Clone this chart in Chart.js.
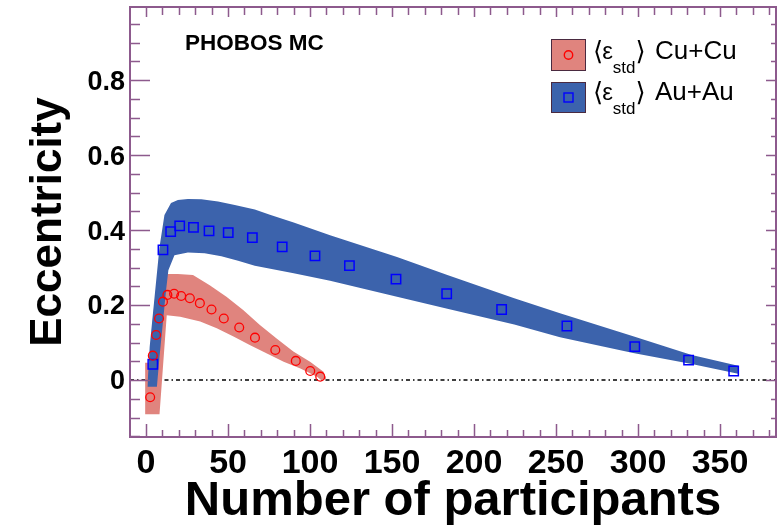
<!DOCTYPE html>
<html>
<head>
<meta charset="utf-8">
<script src="https://cdn.jsdelivr.net/npm/chart.js@4.4.0/dist/chart.umd.min.js"></script>
<style>
  html, body { margin: 0; padding: 0; background: #fff; }
  #wrap { width: 777px; height: 527px; }
</style>
</head>
<body>
<div id="wrap"><canvas id="chart" width="777" height="527"></canvas></div>
<script>
// Cu+Cu markers
const cuNpart = [2.5, 4.1, 6.1, 7.9, 10.3, 13.0, 17.1, 21.4, 26.7, 32.8, 39.9, 47.4, 56.8, 66.4, 78.8, 91.3, 100.1, 106.2];
const cuEcc = [-0.046, 0.065, 0.120, 0.164, 0.209, 0.227, 0.230, 0.224, 0.218, 0.205, 0.188, 0.164, 0.140, 0.113, 0.080, 0.051, 0.024, 0.009];

// Au+Au markers
const auNpart = [4.1, 10.3, 15.0, 20.5, 28.9, 38.4, 50.1, 64.8, 83.0, 103.0, 124.0, 152.4, 183.3, 216.8, 256.6, 298.0, 330.8, 358.3];
const auEcc = [0.042, 0.347, 0.396, 0.411, 0.407, 0.398, 0.393, 0.380, 0.355, 0.331, 0.305, 0.269, 0.230, 0.188, 0.144, 0.089, 0.053, 0.024];

// band edges (upper / lower)
const cuUpperN = [-0.6, -0.6, 1.8, 4.3, 6.5, 9.0, 12.6, 19.4, 28.6, 38.8, 49.0, 59.2, 69.4, 79.6, 89.8, 100.0, 108.2, 109.9];
const cuUpperE = [-0.091, 0.046, 0.046, 0.170, 0.260, 0.283, 0.283, 0.283, 0.280, 0.253, 0.222, 0.187, 0.147, 0.111, 0.076, 0.049, 0.022, 0.004];
const cuLowerN = [-0.6, 8.2, 12.6, 20.8, 33.0, 43.1, 53.3, 63.5, 73.7, 83.9, 94.1, 104.3, 107.3, 109.9];
const cuLowerE = [-0.091, -0.091, 0.173, 0.169, 0.156, 0.138, 0.116, 0.093, 0.071, 0.049, 0.031, 0.009, -0.002, 0.004];

const auUpperN = [0.8, 2.2, 4.2, 6.2, 8.2, 11.2, 15.2, 19.4, 25.5, 33.7, 43.9, 54.1, 66.3, 75.5, 90.0, 112.2, 153.0, 183.7, 224.5, 252.4, 297.0, 332.7, 361.0];
const auUpperE = [-0.018, 0.089, 0.178, 0.267, 0.355, 0.440, 0.472, 0.480, 0.483, 0.482, 0.476, 0.467, 0.455, 0.441, 0.420, 0.386, 0.328, 0.280, 0.218, 0.178, 0.117, 0.067, 0.038];
const auLowerN = [0.8, 6.6, 8.2, 10.2, 12.2, 13.6, 17.3, 25.5, 35.7, 45.9, 56.1, 66.3, 90.0, 112.2, 153.0, 183.7, 224.5, 252.4, 297.0, 332.7, 361.0];
const auLowerE = [-0.018, -0.018, 0.062, 0.151, 0.240, 0.293, 0.333, 0.340, 0.338, 0.330, 0.318, 0.305, 0.285, 0.265, 0.222, 0.190, 0.148, 0.114, 0.072, 0.043, 0.017];

const xTicks = [0, 50, 100, 150, 200, 250, 300, 350];
const yTicks = [0, 0.2, 0.4, 0.6, 0.8];
const xRange = [-9.8, 384.1];
const yRange = [-0.152, 0.995];

const CU_FILL = '#e0847e';
const AU_FILL = '#3c63ac';
const FRAME = '#8d5a8d';
const SANS = '"Liberation Sans", Arial, sans-serif';

const pts = (xs, ys) => xs.map((x, i) => ({ x: x, y: ys[i] }));

function band(xs, ys, fill, color) {
  return {
    data: pts(xs, ys),
    showLine: true,
    borderWidth: 0,
    borderColor: 'rgba(0,0,0,0)',
    backgroundColor: color,
    pointRadius: 0,
    fill: fill
  };
}

// frame + ROOT style inner ticks on all four sides, plus text boxes
const framePlugin = {
  id: 'frame',
  afterDatasetsDraw(chart) {
    const { ctx, chartArea: a, scales: { x, y } } = chart;
    ctx.save();
    ctx.strokeStyle = FRAME;
    ctx.lineWidth = 1.5;
    ctx.beginPath();
    for (let v = 0; v <= xRange[1]; v += 10) {
      const px = Math.round(x.getPixelForValue(v)) + 0.5;
      const major = v % 50 === 0;
      ctx.moveTo(px, a.bottom);
      ctx.lineTo(px, a.bottom - (major ? 13 : 7));
      ctx.moveTo(px, a.top);
      ctx.lineTo(px, a.top + (major ? 10 : 8));
    }
    for (let i = -3; i <= 19; i++) {
      const v = i * 0.05;
      const py = Math.round(y.getPixelForValue(v)) + 0.5;
      const major = i % 4 === 0;
      ctx.moveTo(a.left, py);
      ctx.lineTo(a.left + (major ? 20 : 10), py);
      ctx.moveTo(a.right, py);
      ctx.lineTo(a.right - (major ? 10 : 5), py);
    }
    ctx.stroke();
    ctx.lineWidth = 2;
    ctx.strokeRect(a.left, a.top, a.right - a.left, a.bottom - a.top);
    ctx.restore();
  },
  afterDraw(chart) {
    const ctx = chart.ctx;
    ctx.save();
    ctx.fillStyle = '#000';
    ctx.textBaseline = 'alphabetic';
    ctx.font = 'bold 22.5px ' + SANS;
    ctx.fillText('PHOBOS MC', 185, 49.5);

    const rows = [
      { y: 39.5, h: 31, fill: CU_FILL, label: 'Cu+Cu', base: 58.5, marker: 'circle' },
      { y: 82.5, h: 30, fill: AU_FILL, label: 'Au+Au', base: 100, marker: 'rect' }
    ];
    rows.forEach(r => {
      ctx.fillStyle = r.fill;
      ctx.fillRect(551.5, r.y, 34, r.h);
      ctx.strokeStyle = '#4a2a40';
      ctx.lineWidth = 1;
      ctx.strokeRect(551.5, r.y, 34, r.h);
      const cy = r.y + r.h / 2;
      ctx.lineWidth = 1.4;
      if (r.marker === 'circle') {
        ctx.strokeStyle = '#ff0000';
        ctx.beginPath();
        ctx.arc(568.5, cy, 4.2, 0, Math.PI * 2);
        ctx.stroke();
      } else {
        ctx.strokeStyle = '#0000ff';
        ctx.strokeRect(564, cy - 4.5, 9, 9);
      }
      ctx.fillStyle = '#000';
      let tx = 593;
      ctx.font = '26px "DejaVu Sans", sans-serif';
      ctx.fillText('\u27E8', tx, r.base + 1);
      tx += ctx.measureText('\u27E8').width - 1;
      ctx.font = '24px ' + SANS;
      ctx.fillText('\u03B5', tx, r.base);
      tx += ctx.measureText('\u03B5').width;
      ctx.font = '17px ' + SANS;
      ctx.fillText('std', tx, r.base + 14);
      tx += ctx.measureText('std').width;
      ctx.font = '26px "DejaVu Sans", sans-serif';
      ctx.fillText('\u27E9', tx, r.base + 1);
      ctx.font = '26px ' + SANS;
      ctx.fillText(r.label, 655, r.base);
    });
    ctx.restore();
  }
};

new Chart(document.getElementById('chart'), {
  type: 'scatter',
  data: {
    datasets: [
      {
        label: 'Cu+Cu',
        data: pts(cuNpart, cuEcc),
        pointStyle: 'circle',
        pointRadius: 4.4,
        borderColor: '#ff0000',
        borderWidth: 1.3,
        backgroundColor: 'rgba(0,0,0,0)'
      },
      {
        label: 'Au+Au',
        data: pts(auNpart, auEcc),
        pointStyle: 'rect',
        pointRadius: 6.6,
        borderColor: '#0000ff',
        borderWidth: 1.5,
        backgroundColor: 'rgba(0,0,0,0)'
      },
      band(auUpperN, auUpperE, false, AU_FILL),
      band(auLowerN, auLowerE, '-1', AU_FILL),
      band(cuUpperN, cuUpperE, false, CU_FILL),
      band(cuLowerN, cuLowerE, '-1', CU_FILL),
      {
        data: pts(xRange, [0, 0]),
        showLine: true,
        borderColor: '#000',
        borderWidth: 1.5,
        borderDash: [4, 3, 1.5, 3],
        pointRadius: 0,
        fill: false
      }
    ]
  },
  options: {
    responsive: false,
    animation: false,
    devicePixelRatio: 1,
    layout: { autoPadding: false, padding: { top: 7, right: 1, left: 0, bottom: 0 } },
    plugins: {
      legend: { display: false },
      tooltip: { enabled: false }
    },
    scales: {
      x: {
        type: 'linear',
        min: xRange[0],
        max: xRange[1],
        afterBuildTicks: s => { s.ticks = xTicks.map(v => ({ value: v })); },
        afterFit: s => { s.height = 90; s.paddingLeft = 0; s.paddingRight = 0; },
        grid: { display: false, drawTicks: false },
        border: { display: false },
        ticks: {
          padding: 6,
          color: '#000',
          maxRotation: 0,
          font: { family: SANS, size: 34, weight: 'bold' }
        },
        title: {
          display: true,
          text: 'Number of participants',
          color: '#000',
          padding: { top: 0, bottom: 0 },
          font: { family: SANS, size: 49, weight: 'bold', lineHeight: 1.05 }
        }
      },
      y: {
        type: 'linear',
        min: yRange[0],
        max: yRange[1],
        afterBuildTicks: s => { s.ticks = yTicks.map(v => ({ value: v })); },
        afterFit: s => { s.width = 130; s.paddingTop = 0; s.paddingBottom = 0; },
        grid: { display: false, drawTicks: false },
        border: { display: false },
        ticks: {
          padding: 5,
          labelOffset: 2,
          color: '#000',
          callback: v => String(v),
          font: { family: SANS, size: 27, weight: 'bold' }
        },
        title: {
          display: true,
          text: 'Eccentricity',
          color: '#000',
          padding: { top: 22, bottom: 0 },
          font: { family: SANS, size: 44, weight: 'bold' }
        }
      }
    }
  },
  plugins: [framePlugin]
});
</script>
</body>
</html>
